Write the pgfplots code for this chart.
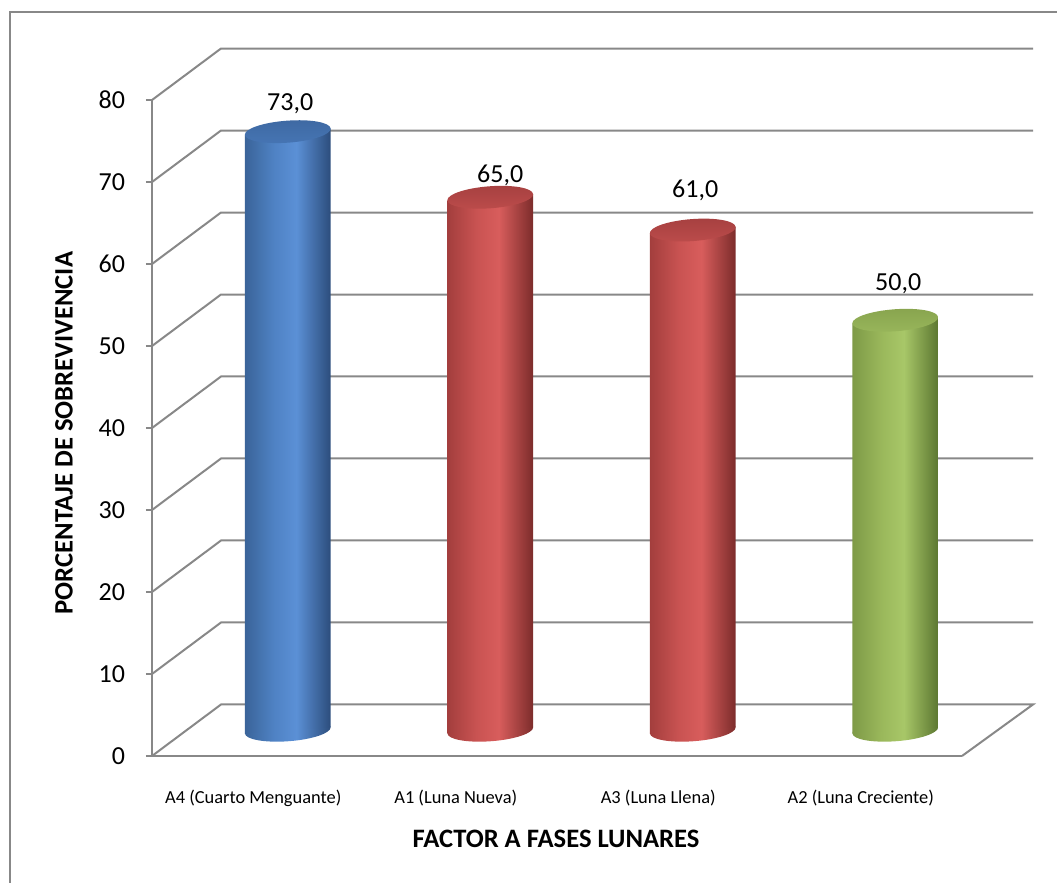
\documentclass[border=0pt]{standalone}
\usepackage{pgfplots}
\pgfplotsset{compat=1.18}
\usepackage{fontspec}
\setmainfont{Carlito}

\definecolor{gridc}{HTML}{888888}
% blue
\definecolor{bA}{HTML}{3A6499}\definecolor{bB}{HTML}{4F82C4}\definecolor{bM}{HTML}{5B90D6}\definecolor{bC}{HTML}{2C4D7C}
\definecolor{bT}{HTML}{3E69A2}\definecolor{bU}{HTML}{4675B4}
% red
\definecolor{rA}{HTML}{A33E3D}\definecolor{rB}{HTML}{C95352}\definecolor{rM}{HTML}{D85D5C}\definecolor{rC}{HTML}{7C2C2B}
\definecolor{rT}{HTML}{A64040}\definecolor{rU}{HTML}{BC4C4B}
% green
\definecolor{gA}{HTML}{7E9A47}\definecolor{gB}{HTML}{9AB85B}\definecolor{gM}{HTML}{A8C768}\definecolor{gC}{HTML}{5C7731}
\definecolor{gT}{HTML}{88A44E}\definecolor{gU}{HTML}{98B65B}

\pgfdeclarehorizontalshading{cylblue}{100bp}{color(0bp)=(bA); color(25bp)=(bA); color(42bp)=(bB); color(55bp)=(bM); color(75bp)=(bC); color(100bp)=(bC)}
\pgfdeclarehorizontalshading{cylred}{100bp}{color(0bp)=(rA); color(25bp)=(rA); color(42bp)=(rB); color(55bp)=(rM); color(75bp)=(rC); color(100bp)=(rC)}
\pgfdeclarehorizontalshading{cylgreen}{100bp}{color(0bp)=(gA); color(25bp)=(gA); color(42bp)=(gB); color(55bp)=(gM); color(75bp)=(gC); color(100bp)=(gC)}

\pgfdeclareplotmark{empty}{}

% slightly tilted ellipse (a=21.5pt, b=5.5pt, 4.2 degrees) centred at (#1,#2)
\newcommand\tiltell[2]{({#1+21.442pt},{#2+1.575pt})
  .. controls ({#1+21.220pt},{#2+4.604pt}) and ({#1+11.440pt},{#2+6.355pt}) .. ({#1-0.403pt},{#2+5.485pt})
  .. controls ({#1-12.246pt},{#2+4.615pt}) and ({#1-21.665pt},{#2+1.454pt}) .. ({#1-21.442pt},{#2-1.575pt})
  .. controls ({#1-21.220pt},{#2-4.604pt}) and ({#1-11.440pt},{#2-6.355pt}) .. ({#1+0.403pt},{#2-5.485pt})
  .. controls ({#1+12.246pt},{#2-4.615pt}) and ({#1+21.665pt},{#2-1.454pt}) .. ({#1+21.442pt},{#2+1.575pt}) -- cycle}

% the cylinder stands at mid depth: offset (17.25pt,12.875pt) from the front plane
% #1 side shading, #2 top colour, #3 bottom colour of top face, #4,#5 label offset
\newcommand\cyldraw[5]{%
  \pgfmathsetlengthmacro\cylB{12.875pt-\val*4.1pt}%
  \pgfmathsetlengthmacro\cylBl{\cylB-1.575pt}%
  \pgfmathsetlengthmacro\cylBr{\cylB+1.575pt}%
  \shade[draw=none, shading=#1] \tiltell{17.25pt}{\cylB};
  \shade[draw=none, shading=#1] (-4.192pt,11.3pt) -- (38.692pt,14.45pt) -- (38.692pt,\cylBr) -- (-4.192pt,\cylBl) -- cycle;
  \shade[draw=none, top color=#2, bottom color=#3] \tiltell{17.25pt}{12.875pt};
  \node[anchor=base, inner sep=0pt, text=black, font=\fontsize{13}{15}\selectfont] at ({17.25pt+#4},{12.875pt+#5})
    {\pgfmathprintnumber[fixed,fixed zerofill,precision=1,use comma,assume math mode=true]{\val}};
}

\pgfplotsset{
  cyl/.style n args={5}{scatter, only marks, mark=empty,
    visualization depends on={y \as \val},
    scatter/@pre marker code/.code={\cyldraw{#1}{#2}{#3}{#4}{#5}},
    scatter/@post marker code/.code={}},
}

\begin{document}
\begin{tikzpicture}
\useasboundingbox (-76pt,-63.5pt) rectangle (452.5pt,378pt);
\draw[gridc, line width=1pt] (-71pt,-63.5pt) -- (-71pt,372pt) -- (452.5pt,372pt);
\begin{axis}[
  scale only axis, width=405pt, height=328pt,
  xmin=0.5, xmax=4.5, ymin=0, ymax=80,
  clip=false,
  axis x line*=bottom, axis y line*=left,
  axis line style={gridc, line width=1pt},
  /pgf/number format/assume math mode=true,
  ytick={0,10,...,80},
  tick align=outside,
  major tick length=3pt,
  y tick style={gridc, line width=1pt},
  xtick={1,2,3,4},
  xticklabels={A4 (Cuarto Menguante), A1 (Luna Nueva), A3 (Luna Llena), A2 (Luna Creciente)},
  x tick style={draw=none},
  xticklabel style={font=\fontsize{9.2}{11}\selectfont, anchor=base, yshift=-21pt},
  yticklabel style={font=\fontsize{13}{15}\selectfont, anchor=east, xshift=-7pt},
  xlabel={FACTOR A FASES LUNARES},
  ylabel={PORCENTAJE DE SOBREVIVENCIA},
  every axis x label/.style={at={(axis description cs:0.4988,-0.1265)}, anchor=center, font=\bfseries\fontsize{13.3}{15}\selectfont},
  every axis y label/.style={at={(axis description cs:-0.1086,0.4924)}, anchor=center, rotate=90, font=\bfseries\fontsize{13.3}{15}\selectfont},
]
\pgfplotsinvokeforeach{10,20,...,80}{
  \draw[gridc, line width=1pt] (axis cs:0.5,#1) -- ++(34.5pt,25.75pt) -- ++(406pt,0pt);
}
\draw[gridc, line width=1pt] (axis cs:0.5,0) -- ++(34.5pt,25.75pt) -- ++(406pt,0pt) -- (axis cs:4.5,0);

\addplot[cyl={cylblue}{bT}{bU}{1.25pt}{10.8pt}] coordinates {(1,73)};
\addplot[cyl={cylred}{rT}{rU}{5pt}{7.6pt}] coordinates {(2,65)};
\addplot[cyl={cylred}{rT}{rU}{1.25pt}{16.5pt}] coordinates {(3,61)};
\addplot[cyl={cylgreen}{gT}{gU}{1.5pt}{15pt}] coordinates {(4,50)};
\end{axis}
\end{tikzpicture}
\end{document}
